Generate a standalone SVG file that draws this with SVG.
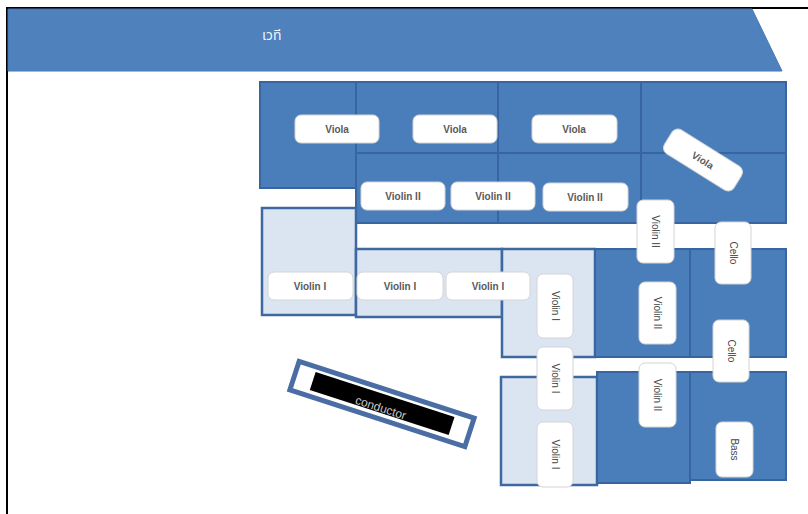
<svg xmlns="http://www.w3.org/2000/svg" width="808" height="514" viewBox="0 0 808 514">
<style>
.dk{fill:#4a7ebb;stroke:#38659f;stroke-width:2}
.lt{fill:#dbe5f1;stroke:#3f68a0;stroke-width:2.5}
.lb{fill:#ffffff;stroke:#d4d4d4;stroke-width:1}
.h{font-family:"Liberation Sans",Arial,sans-serif;font-size:10px;font-weight:bold;fill:#5a5a5a;text-anchor:middle}
.v{font-family:"Liberation Sans",Arial,sans-serif;font-size:10px;fill:#444;text-anchor:middle}
</style>
<rect width="808" height="514" fill="#ffffff"/>
<g id="frame">
<line x1="6" y1="8" x2="808" y2="8" stroke="#000" stroke-width="2"/>
<line x1="7" y1="8" x2="7" y2="514" stroke="#000" stroke-width="2"/>
</g>
<g id="stage">
<polygon points="8,9 752,9 782,71 8,71" fill="#4f81bd" stroke="#4577b3" stroke-width="1"/>
<text x="262" y="40" font-family="'Noto Sans Thai','Noto Sans','DejaVu Sans',sans-serif" font-size="14" fill="#eef3fa">เวที</text>
</g>
<g id="sections">
<rect class="dk" x="260" y="82" width="96" height="106"/>
<rect class="dk" x="356" y="82" width="142" height="71"/>
<rect class="dk" x="498" y="82" width="143" height="71"/>
<rect class="dk" x="641" y="82" width="145" height="71"/>
<rect class="dk" x="356" y="153" width="142" height="70"/>
<rect class="dk" x="498" y="153" width="143" height="70"/>
<rect class="dk" x="641" y="153" width="145" height="70"/>
<rect class="lt" x="262" y="208" width="94" height="107"/>
<rect class="lt" x="356" y="249" width="146" height="68"/>
<rect class="lt" x="502" y="249" width="93" height="108"/>
<rect class="lt" x="501" y="377" width="96" height="108"/>
<rect class="dk" x="595" y="249" width="95" height="108"/>
<rect class="dk" x="690" y="249" width="96" height="108"/>
<rect class="dk" x="597" y="372" width="93" height="111"/>
<rect class="dk" x="690" y="372" width="96" height="108"/>
</g>
<g id="viola1"><rect class="lb" x="295" y="115" width="84" height="28" rx="6"/><text class="h" x="337" y="133">Viola</text></g>
<g id="viola2"><rect class="lb" x="413" y="115" width="84" height="28" rx="6"/><text class="h" x="455" y="133">Viola</text></g>
<g id="viola3"><rect class="lb" x="532" y="115" width="85" height="28" rx="6"/><text class="h" x="574" y="133">Viola</text></g>
<g id="viola4" transform="translate(703,160) rotate(32)"><rect class="lb" x="-41" y="-14" width="82" height="28" rx="7"/><text class="h" x="0" y="4">Viola</text></g>
<g id="violin2a"><rect class="lb" x="361" y="182" width="84" height="28" rx="6"/><text class="h" x="403" y="200">Violin II</text></g>
<g id="violin2b"><rect class="lb" x="451" y="182" width="84" height="28" rx="6"/><text class="h" x="493" y="200">Violin II</text></g>
<g id="violin2c"><rect class="lb" x="543" y="183" width="85" height="28" rx="6"/><text class="h" x="585" y="201">Violin II</text></g>
<g id="violin1a"><rect class="lb" x="268" y="272" width="85" height="28" rx="6"/><text class="h" x="310" y="290">Violin I</text></g>
<g id="violin1b"><rect class="lb" x="357" y="272" width="86" height="28" rx="6"/><text class="h" x="400" y="290">Violin I</text></g>
<g id="violin1c"><rect class="lb" x="446" y="272" width="84" height="28" rx="6"/><text class="h" x="488" y="290">Violin I</text></g>
<g id="violin2d"><rect class="lb" x="637" y="200" width="37" height="63" rx="6"/><text class="v" transform="translate(652,231.5) rotate(90)">Violin II</text></g>
<g id="violin2e"><rect class="lb" x="639" y="282" width="37" height="62" rx="6"/><text class="v" transform="translate(654,313) rotate(90)">Violin II</text></g>
<g id="violin2f"><rect class="lb" x="639" y="363" width="37" height="64" rx="6"/><text class="v" transform="translate(654,395) rotate(90)">Violin II</text></g>
<g id="cello1"><rect class="lb" x="715" y="222" width="36" height="62" rx="6"/><text class="v" transform="translate(729.5,253) rotate(90)">Cello</text></g>
<g id="cello2"><rect class="lb" x="713" y="320" width="36" height="62" rx="6"/><text class="v" transform="translate(727.5,351) rotate(90)">Cello</text></g>
<g id="violin1d"><rect class="lb" x="537" y="274" width="36" height="64" rx="6"/><text class="v" transform="translate(551.5,306) rotate(90)">Violin I</text></g>
<g id="violin1e"><rect class="lb" x="537" y="347" width="36" height="63" rx="6"/><text class="v" transform="translate(551.5,378.5) rotate(90)">Violin I</text></g>
<g id="violin1f"><rect class="lb" x="537" y="422" width="36" height="65" rx="6"/><text class="v" transform="translate(551.5,454.5) rotate(90)">Violin I</text></g>
<g id="bass"><rect class="lb" x="716" y="422" width="37" height="55" rx="6"/><text class="v" transform="translate(731,449.5) rotate(90)">Bass</text></g>
<g id="conductor" transform="translate(382,404) rotate(18)">
<rect x="-92" y="-15" width="184" height="30" fill="#ffffff" stroke="#4a6ea3" stroke-width="5"/>
<rect x="-73" y="-10" width="146" height="19" fill="#000000"/>
<text x="0" y="8" font-family="'Liberation Sans',Arial,sans-serif" font-size="12" fill="#c8c8c8" text-anchor="middle">conductor</text>
</g>
</svg>
